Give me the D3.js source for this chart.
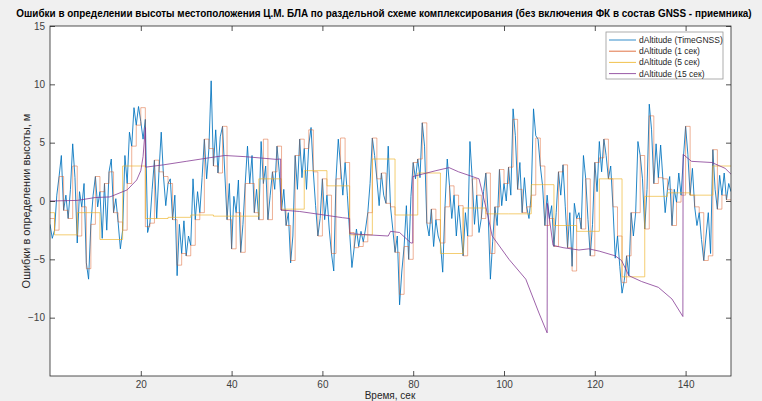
<!DOCTYPE html>
<html lang="ru">
<head>
<meta charset="UTF-8">
<title>dAltitude</title>
<script src="https://d3js.org/d3.v7.min.js"></script>
<style>
  body { margin: 0; background: #f0f0f0; }
  svg { display: block; font-family: "Liberation Sans", Arial, sans-serif; }
</style>
</head>
<body>
<svg width="762" height="401"></svg>
<script>
// TimeGNSS, sampled every 0.5 s from t = 0
const blueStep = 0.5;
const blueValues = [
  -2.0,-3.2,-2.5,0.5,2.1,3.9,-0.8,0.5,-1.5,1.0,4.9,2.0,-3.6,0.8,-0.5,1.5,-5.3,-6.7,-2.0,0.5,
  2.1,-0.5,0.8,-3.2,1.5,-2.5,2.5,3.6,-1.0,0.2,-1.8,-4.1,-2.5,3.9,1.5,5.9,4.7,8.0,6.5,8.1,
  6.8,5.3,7.0,-2.7,-1.9,1.0,3.5,-1.5,2.5,5.9,2.1,-0.4,1.5,1.9,-1.6,0.5,-6.4,-2.0,-4.5,-1.7,
  -4.7,-3.0,-3.8,1.9,-1.6,0.8,-1.0,2.0,5.3,1.9,4.5,10.3,3.0,6.1,2.4,5.5,6.4,2.4,-1.6,1.5,
  -4.1,0.4,-1.0,1.8,-4.4,-2.0,1.5,4.7,1.5,3.9,-1.0,1.0,-1.6,5.1,1.5,3.0,-1.6,0.5,2.5,1.0,
  4.7,2.5,-0.8,1.0,-2.1,-1.0,-5.3,-3.0,3.9,1.0,5.3,2.0,4.5,1.0,4.8,6.3,2.5,-0.4,-3.0,-1.5,
  1.9,-1.6,0.5,-2.4,-4.5,-6.0,1.9,5.3,3.0,0.5,3.3,0.5,-2.7,-5.7,-4.0,-2.4,-3.9,-2.6,-3.5,-2.4,
  -1.0,1.5,5.4,3.9,1.9,-0.4,2.4,0.5,-0.2,4.7,-0.5,-2.4,-4.4,-3.0,-8.9,-6.0,-3.9,-0.4,-5.0,0.4,
  3.3,1.9,3.6,2.0,6.7,4.7,-1.9,-3.0,-0.7,-3.9,-1.6,-3.0,-3.6,-6.1,-0.5,3.6,1.3,-1.5,0.5,-3.0,
  -0.4,-2.5,-4.7,-1.0,-3.0,5.1,1.9,-2.0,0.5,-2.7,-1.5,0.8,2.4,-1.0,-6.7,-3.5,-0.5,-2.1,2.7,-0.4,
  1.5,0.0,2.9,0.5,7.9,5.6,1.0,3.3,-1.0,2.0,-0.5,-1.5,0.5,7.9,5.6,5.3,3.0,1.3,-2.1,0.5,
  -1.5,-0.4,-3.9,-1.0,2.5,0.5,3.1,-0.5,-4.0,-1.0,-5.6,-0.2,-1.5,-1.0,-2.4,3.9,1.9,-1.6,-4.7,-2.0,
  3.3,0.8,5.1,2.5,5.3,3.9,1.9,3.0,-0.5,-4.9,-3.0,-5.6,-7.9,-6.8,-4.7,-6.4,-1.0,-3.0,-1.0,5.1,
  3.9,1.9,-2.4,1.0,8.3,6.1,1.5,4.9,2.0,4.8,1.9,-1.0,1.0,2.1,-2.1,1.0,-0.1,2.4,0.5,3.6,
  6.4,4.0,0.5,2.8,-0.5,-2.1,-1.0,-3.3,-5.1,-3.0,-1.0,-4.5,4.4,1.0,-0.7,2.2,0.5,2.4,0.1,1.5,
  0.8
];

// 1 s correction: held value for each second 0..149
const oneSecValues = [
  -1.5,-2.5,2.1,-0.8,-1.5,3.0,-3.0,-0.5,-5.8,-2.0,
  2.1,0.8,1.5,2.5,-1.0,-1.8,-2.5,1.5,4.7,6.5,
  8.0,-2.2,-1.9,3.5,2.5,2.1,1.5,-1.6,-5.5,-4.5,
  -4.7,-3.8,-1.6,-1.0,5.3,4.5,3.0,2.4,6.4,-1.6,
  -4.1,-1.0,-4.4,1.5,1.5,-1.0,-1.6,5.3,-1.6,2.5,
  4.7,-0.8,-2.1,-5.1,3.9,5.3,4.5,6.1,2.5,-3.0,
  1.9,0.5,-4.5,1.9,5.4,3.3,-2.7,-4.0,-3.9,-3.5,
  -1.0,5.4,1.9,2.4,-0.2,-0.5,-4.4,-8.0,-3.9,-5.0,
  3.3,3.6,6.7,-1.9,-0.7,-1.6,-3.6,-0.5,1.3,0.5,
  -0.4,-4.7,-3.0,1.9,0.5,-1.5,2.4,-4.5,-0.5,2.7,
  1.5,2.9,7.0,1.0,-1.0,-0.5,0.5,5.4,3.0,-2.1,
  -1.5,-3.9,2.5,3.1,-4.0,-6.0,-1.5,-2.4,1.9,-4.7,
  3.3,3.7,5.3,1.9,-0.5,-3.0,-7.0,-4.7,-1.0,-1.0,
  3.9,-2.4,7.3,1.5,2.0,1.9,1.0,-2.1,-0.1,0.5,
  6.4,0.5,-0.5,-1.0,-5.1,-4.7,4.4,-0.7,0.5,0.1
];

// 5 s correction: start times of each held value
const fiveSecStarts = [0,1,6,11,16,21,26,31,36,41,46,51,56,61,66,71,76,81,86,91,96,101,106,111,116,121,126,131,136,141,146];
const fiveSecValues = [-1.0,-2.9,-1.0,-3.3,3.0,-1.5,-1.4,-1.2,-1.3,-1.3,1.9,-0.7,2.6,1.3,-2.9,3.6,-1.2,2.4,-4.5,-0.6,-1.1,-1.1,1.4,-2.1,-2.6,1.9,-6.5,0.4,0.7,0.5,3.0];

// 15 s correction: drift curve with resets
const fifteenT = [0,6,10,13.2,17,19.1,20,20.5,21.0,21.05,25,30,35,38.5,43,49.8,50.8,50.85,55,59.3,
  64.4,66,66.05,70,74.5,75,77,79.5,79.9,79.95,82,85,87.9,90,94.5,96.3,97.4,101.1,104.8,107.7,
  109.5,109.55,110.8,113,116.5,118.7,121,124.5,125.9,127.5,130.3,134,137,139.4,139.45,141.3,145.8,148.7,150];
const fifteenV = [0,0.05,0.3,0.35,0.95,1.8,2.6,3.8,6.3,2.9,3.1,3.4,3.7,3.9,3.8,3.57,3.6,-0.77,-0.9,-1.14,
  -1.43,-1.5,-2.8,-2.9,-3.0,-2.6,-2.7,-3.6,-3.6,2.1,2.3,2.6,2.86,2.5,1.9,-1.0,-3.0,-5.0,-6.7,-9.6,
  -11.3,-0.2,-3.8,-4.0,-4.2,-4.1,-4.3,-4.7,-5.1,-6.4,-6.9,-7.4,-8.4,-9.9,4.0,3.4,3.3,2.8,2.3];

const seriesNames = ['dAltitude (TimeGNSS)', 'dAltitude (1 сек)', 'dAltitude (5 сек)', 'dAltitude (15 сек)'];
const seriesColors = ['#0072BD', '#D95319', '#EDB120', '#7E2F8E'];
const xTicks = [20, 40, 60, 80, 100, 120, 140];
const yTicks = [-10, -5, 0, 5, 10, 15];

const svg = d3.select('svg');
svg.append('rect').attr('width', 762).attr('height', 401).attr('fill', '#f0f0f0');

const x = d3.scaleLinear().domain([0, 150]).range([50, 731]);
const y = d3.scaleLinear().domain([-15, 15]).range([376, 26]);

svg.append('rect')
  .attr('x', x(0)).attr('y', y(15))
  .attr('width', x(150) - x(0)).attr('height', y(-15) - y(15))
  .attr('fill', '#fff');

svg.append('clipPath').attr('id', 'plot')
  .append('rect')
  .attr('x', x(0)).attr('y', y(15))
  .attr('width', x(150) - x(0)).attr('height', y(-15) - y(15));

const line = d3.line().x(d => x(d[0])).y(d => y(d[1]));
const stepLine = d3.line().x(d => x(d[0])).y(d => y(d[1])).curve(d3.curveStepAfter);

const blueData = blueValues.map((v, i) => [i * blueStep, v]);
const oneData = oneSecValues.map((v, i) => [i, v]);
oneData.push([150, oneSecValues[oneSecValues.length - 1]]);
const fiveData = fiveSecValues.map((v, i) => [fiveSecStarts[i], v]);
fiveData.push([150, fiveSecValues[fiveSecValues.length - 1]]);
const fifteenData = fifteenT.map((t, i) => [t, fifteenV[i]]);

const plot = svg.append('g').attr('clip-path', 'url(#plot)');
plot.append('path').attr('d', line(blueData))
  .attr('fill', 'none').attr('stroke', seriesColors[0]).attr('stroke-width', 1).attr('stroke-opacity', 0.85);
plot.append('path').attr('d', stepLine(oneData))
  .attr('fill', 'none').attr('stroke', seriesColors[1]).attr('stroke-width', 0.9).attr('stroke-opacity', 0.5);
plot.append('path').attr('d', stepLine(fiveData))
  .attr('fill', 'none').attr('stroke', seriesColors[2]).attr('stroke-width', 0.9).attr('stroke-opacity', 0.7);
plot.append('path').attr('d', line(fifteenData))
  .attr('fill', 'none').attr('stroke', seriesColors[3]).attr('stroke-width', 1).attr('stroke-opacity', 0.75);

// axes, MATLAB style with ticks pointing inwards
const axisColor = '#262626';
function styleAxis(g) {
  g.select('.domain').remove();
  g.selectAll('line').attr('stroke', axisColor).attr('stroke-width', 0.8);
  g.selectAll('text').attr('fill', '#404040').style('font-size', '10px');
}
svg.append('g').attr('transform', `translate(0,${y(-15)})`)
  .call(d3.axisBottom(x).tickValues(xTicks).tickSizeInner(-5).tickSizeOuter(0).tickPadding(5))
  .call(styleAxis);
svg.append('g').attr('transform', `translate(0,${y(15)})`)
  .call(d3.axisTop(x).tickValues(xTicks).tickSizeInner(-5).tickSizeOuter(0).tickFormat(''))
  .call(styleAxis);
svg.append('g').attr('transform', `translate(${x(0)},0)`)
  .call(d3.axisLeft(y).tickValues(yTicks).tickSizeInner(-5).tickSizeOuter(0).tickPadding(5))
  .call(styleAxis);
svg.append('g').attr('transform', `translate(${x(150)},0)`)
  .call(d3.axisRight(y).tickValues(yTicks).tickSizeInner(-5).tickSizeOuter(0).tickFormat(''))
  .call(styleAxis);

svg.append('rect')
  .attr('x', x(0)).attr('y', y(15))
  .attr('width', x(150) - x(0)).attr('height', y(-15) - y(15))
  .attr('fill', 'none').attr('stroke', axisColor).attr('stroke-width', 0.8);

// title: squeeze horizontally so it spans the same width as the reference
const title = svg.append('text')
  .attr('text-anchor', 'middle')
  .style('font-size', '11px').style('font-weight', 'bold').attr('fill', '#000')
  .text('Ошибки в определении высоты местоположения Ц.М. БЛА по раздельной схеме комплексирования (без включения ФК в состав GNSS - приемника)');
const titleLen = title.node().getComputedTextLength();
const titleScale = Math.min(1, 736 / titleLen);
title.attr('transform', `translate(384,17) scale(${titleScale},1)`);

svg.append('text')
  .attr('transform', 'translate(30,201) rotate(-90)')
  .attr('text-anchor', 'middle')
  .style('font-size', '11px').attr('fill', '#262626')
  .text('Ошибки в определении высоты, м');

svg.append('text')
  .attr('x', 390).attr('y', 399)
  .attr('text-anchor', 'middle')
  .style('font-size', '10px').attr('fill', '#262626')
  .text('Время, сек');

// legend
const legend = svg.append('g');
legend.append('rect')
  .attr('x', 606).attr('y', 32).attr('width', 117).attr('height', 47)
  .attr('fill', '#fff').attr('stroke', '#9a9a9a').attr('stroke-width', 0.8);
seriesNames.forEach((name, i) => {
  const ly = 40 + i * 11.2;
  legend.append('line')
    .attr('x1', 609).attr('x2', 636).attr('y1', ly).attr('y2', ly)
    .attr('stroke', seriesColors[i]).attr('stroke-width', 1).attr('stroke-opacity', 0.8);
  legend.append('text')
    .attr('x', 639).attr('y', ly + 3)
    .style('font-size', '8.5px').attr('fill', '#262626')
    .text(name);
});
</script>
</body>
</html>
